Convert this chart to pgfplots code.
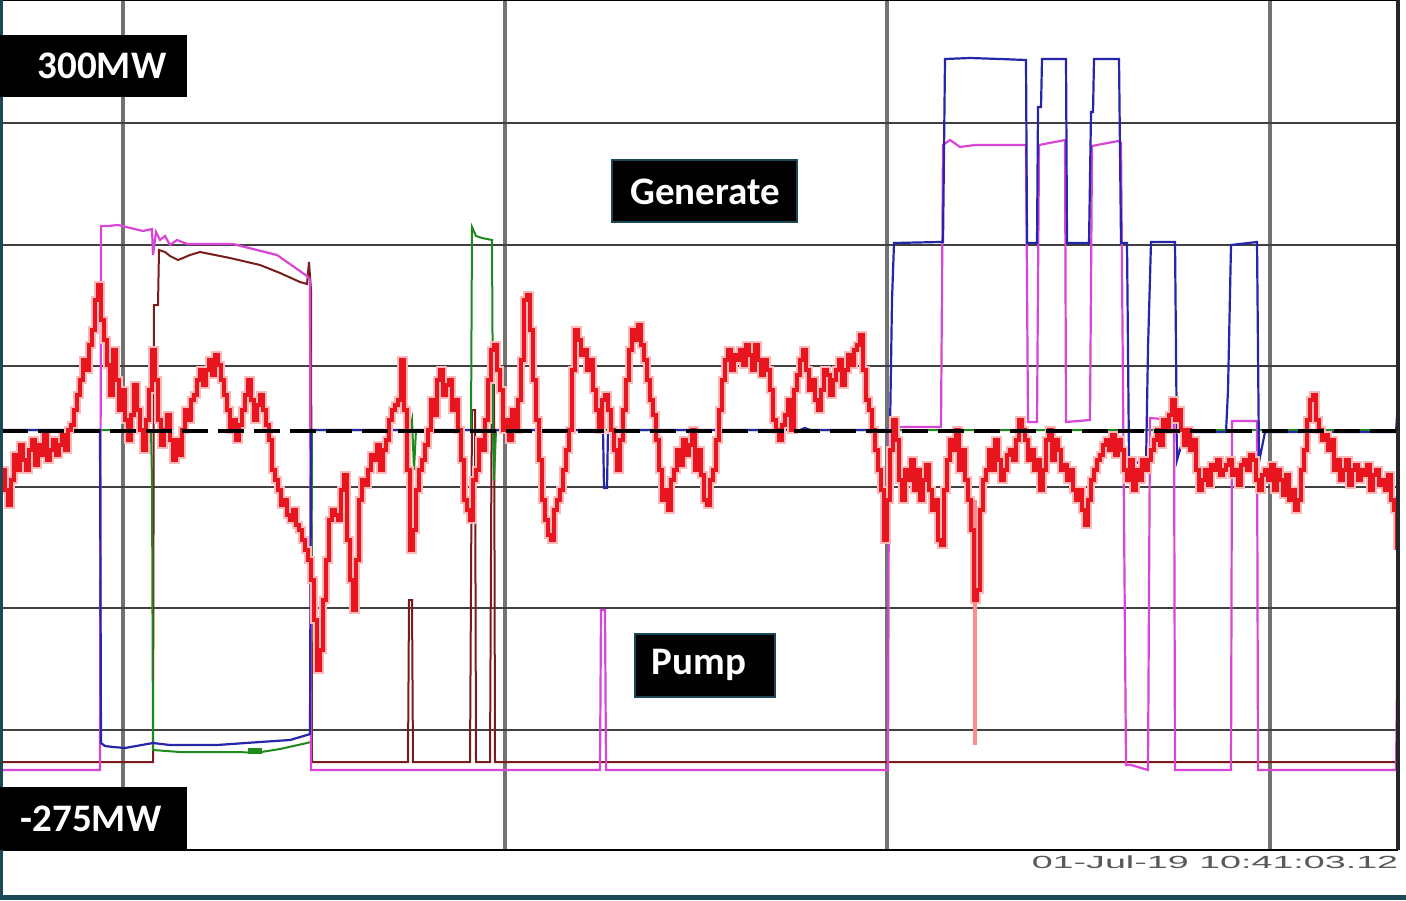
\documentclass[border=0pt]{standalone}
\usepackage{pgfplots}
\usepackage{pgfplotstable}
\pgfplotsset{compat=1.18}
\usepackage{fontspec}
\setmainfont{Carlito}
\newfontfamily\arialfont{Liberation Sans}
\usepackage{graphicx}
\definecolor{teal1}{HTML}{1B4756}
\definecolor{tred}{HTML}{E8141E}
\definecolor{tpink}{HTML}{D846D8}
\definecolor{tblue}{HTML}{2626AA}
\definecolor{tgreen}{HTML}{1E8A1E}
\definecolor{tbrown}{HTML}{7A1C1C}
\pgfplotstableread{
x y
2 470
5 490
8 505
11 480
14 455
17 470
20 445
23 460
26 470
29 450
32 440
35 465
38 445
41 455
44 435
47 460
50 450
53 440
56 455
59 445
62 435
65 450
68 430
71 425
74 410
77 395
80 380
83 360
86 370
89 345
92 330
95 300
98 285
101 320
104 340
107 365
110 395
113 350
116 380
119 410
122 390
125 420
128 440
131 415
134 385
137 410
140 430
143 450
146 420
149 390
152 350
155 380
158 420
161 445
164 430
167 415
170 440
173 460
176 440
179 455
182 430
185 410
188 420
191 400
194 395
197 380
200 370
203 385
206 370
209 360
212 375
215 355
218 365
221 380
224 395
227 410
230 430
233 420
236 440
239 425
242 410
245 395
248 380
251 400
254 420
257 405
260 395
263 410
266 425
269 440
272 470
275 480
278 490
281 505
284 500
287 515
290 520
293 510
296 525
299 530
302 540
305 550
308 560
311 580
314 620
317 670
320 650
323 600
326 560
329 520
332 510
335 515
338 520
341 490
344 475
347 540
350 580
353 610
356 560
359 500
362 480
365 485
368 470
371 455
374 460
377 445
380 470
383 450
386 440
389 420
392 410
395 405
398 400
401 360
404 410
407 470
410 550
413 530
416 490
419 470
422 460
425 445
428 430
431 400
434 415
437 380
440 370
443 395
446 385
449 380
452 410
455 400
458 430
461 460
464 500
467 510
470 520
473 480
476 470
479 440
482 450
485 420
488 380
491 350
494 345
497 370
500 390
503 430
506 420
509 440
512 410
515 430
518 400
521 360
524 300
527 295
530 330
533 380
536 420
539 460
542 500
545 520
548 535
551 540
554 510
557 500
560 490
563 470
566 450
569 430
572 370
575 330
578 340
581 355
584 350
587 370
590 360
593 390
596 410
599 430
602 400
605 395
608 410
611 430
614 450
617 470
620 440
623 410
626 380
629 350
632 330
635 340
638 325
641 345
644 360
647 380
650 400
653 415
656 440
659 470
662 500
665 490
668 510
671 480
674 470
677 450
680 465
683 440
686 455
689 445
692 430
695 470
698 450
701 475
704 500
707 505
710 480
713 470
716 440
719 410
722 380
725 360
728 350
731 370
734 355
737 360
740 350
743 365
746 345
749 355
752 370
755 345
758 360
761 375
764 360
767 370
770 390
773 420
776 430
779 440
782 425
785 415
788 400
791 430
794 390
797 375
800 360
803 350
806 370
809 390
812 380
815 400
818 410
821 390
824 370
827 375
830 395
833 380
836 370
839 360
842 385
845 370
848 355
851 365
854 350
857 345
860 335
863 370
866 400
869 410
872 430
875 450
878 470
881 490
884 540
887 500
890 450
893 420
896 440
899 480
902 500
905 470
908 480
911 460
914 490
917 470
920 500
923 480
926 465
929 490
932 510
935 500
938 540
941 545
944 490
947 460
950 440
953 450
956 430
959 470
962 450
965 480
968 500
971 530
974 600
977 590
980 510
983 480
986 470
989 450
992 470
995 440
998 460
1001 480
1004 470
1007 455
1010 450
1013 460
1016 440
1019 420
1022 430
1025 440
1028 460
1031 450
1034 470
1037 460
1040 490
1043 470
1046 440
1049 430
1052 460
1055 440
1058 450
1061 470
1064 465
1067 480
1070 470
1073 490
1076 500
1079 490
1082 510
1085 525
1088 500
1091 480
1094 470
1097 460
1100 455
1103 445
1106 440
1109 450
1112 435
1115 455
1118 440
1121 450
1124 470
1127 480
1130 460
1133 490
1136 470
1139 480
1142 460
1145 470
1148 460
1151 450
1154 440
1157 430
1160 445
1163 420
1166 430
1169 415
1172 400
1175 420
1178 410
1181 430
1184 445
1187 430
1190 450
1193 440
1196 470
1199 490
1202 480
1205 470
1208 485
1211 465
1214 470
1217 460
1220 475
1223 470
1226 465
1229 460
1232 475
1235 470
1238 485
1241 465
1244 460
1247 470
1250 455
1253 460
1256 480
1259 490
1262 475
1265 470
1268 480
1271 465
1274 490
1277 470
1280 480
1283 495
1286 475
1289 500
1292 490
1295 510
1298 500
1301 470
1304 450
1307 420
1310 400
1313 395
1316 420
1319 430
1322 440
1325 435
1328 450
1331 440
1334 470
1337 460
1340 480
1343 470
1346 460
1349 485
1352 470
1355 465
1358 480
1361 470
1364 475
1367 465
1370 490
1373 475
1376 470
1379 485
1382 480
1385 490
1388 475
1391 500
1394 510
1397 550
}\reddata
\begin{document}
\begin{tikzpicture}
\path[use as bounding box, fill=white] (0,0) rectangle (703pt,450pt);
\begin{axis}[
  at={(1pt,25pt)}, anchor=south west,
  scale only axis, width=698pt, height=425pt,
  xmin=2, xmax=1398, ymin=0, ymax=850, y dir=reverse,
  xtick={123,505,887,1270}, ytick={123,245,366,487,608,730},
  xticklabels={}, yticklabels={}, major tick length=0pt,
  xmajorgrids, ymajorgrids,
  x grid style={line width=1.7pt, color=black!55},
  y grid style={line width=0.7pt, color=black!75},
  axis line style={draw=none},
  clip=true,
]
% brown (maroon) unit
\addplot[tbrown, line width=1pt] coordinates {
(2,762)(152,762)(153,762)(154,305)(158,305)(159,250)(165,252)(170,256)(178,260)(183,258)(190,255)(200,252)(230,258)(260,265)(280,273)(300,282)(307,284)(309,262)(311,290)(312,762)(408,762)(409,600)(412,600)(413,762)(470,762)(472,410)(475,410)(476,762)(490,762)(492,345)(494,345)(495,762)(1398,762)};
% green unit
\addplot[tgreen, line width=1pt] coordinates {
(2,430)(151,430)(152,480)(153,750)(180,752)(217,752)(240,752)(255,753)(280,749)(307,743)(311,742)(312,430)(410,430)(412,420)(414,470)(416,430)(471,430)(472,227)(476,236)(482,238)(492,240)(493,430)(494,480)(496,430)(1398,430)};
\addplot[tgreen, line width=3pt] coordinates {(248,751)(262,751)};
% pink unit
\addplot[tpink, line width=1.1pt] coordinates {
(2,770)(100,770)(101,226)(108,226)(118,225)(143,231)(152,229)(153,255)(156,232)(160,240)(165,236)(170,245)(177,240)(187,244)(233,244)(277,255)(307,276)(310,280)(311,770)(600,770)(601,610)(605,610)(606,770)(888,770)(889,427)(941,427)(943,145)(950,140)(960,147)(975,145)(1000,145)(1026,145)(1028,422)(1037,422)(1039,145)(1065,140)(1066,422)(1090,420)(1092,146)(1118,141)(1121,143)(1126,765)(1131,765)(1148,770)(1150,418)(1174,420)(1175,770)(1231,770)(1232,421)(1257,421)(1258,770)(1396,770)(1398,600)};
% blue unit
\addplot[tblue, line width=1.1pt] coordinates {
(2,430)(100,430)(101,743)(105,746)(113,747)(125,748)(153,743)(170,745)(217,745)(260,742)(290,740)(307,735)(310,734)(311,430)(603,430)(604,488)(607,488)(608,430)(800,430)(805,428)(810,430)(890,430)(892,300)(894,243)(940,242)(943,242)(945,59)(970,58)(1000,59)(1026,60)(1027,243)(1037,243)(1038,107)(1041,107)(1042,59)(1066,59)(1067,243)(1089,243)(1091,112)(1093,112)(1094,59)(1119,59)(1121,243)(1127,243)(1129,460)(1146,465)(1148,348)(1151,242)(1175,242)(1177,460)(1185,432)(1226,432)(1228,390)(1231,245)(1257,242)(1259,462)(1265,432)(1396,432)(1398,400)};
% red halo and spike
\addplot[red!28, line width=3.6pt, const plot] table {\reddata};
\addplot[red!45, line width=2pt] coordinates {(975,500)(975,745)};
% red trace
\addplot[tred, line width=1.6pt, const plot] table {\reddata};
% zero (dashed) line
\addplot[black, line width=2.2pt, dash pattern=on 13pt off 5pt] coordinates {(2,431)(1398,431)};
\end{axis}
% frame
\draw[black, line width=1pt] (1pt,450pt) -- (699pt,450pt);
\draw[black, line width=0.6pt] (1pt,25pt) -- (699pt,25pt);
\draw[black!85, line width=1.6pt] (699pt,25pt) -- (699pt,450pt);
% teal border
\fill[teal1] (0,0) rectangle (1.5pt,450pt);
\fill[teal1] (0,0) rectangle (703pt,2.5pt);
% labels
\fill[black] (0,401.5pt) rectangle (93.5pt,432.5pt);
\node[text=white, font=\fontsize{19.5}{22}\selectfont\bfseries] at (51pt,417pt) {300MW};
\fill[black] (0,25pt) rectangle (93.5pt,56.5pt);
\node[text=white, font=\fontsize{19.5}{22}\selectfont\bfseries] at (45.5pt,40.5pt) {-275MW};
\filldraw[fill=black, draw=teal1, line width=0.6pt] (306pt,339pt) rectangle (398.5pt,370pt);
\node[text=white, font=\fontsize{19.5}{22}\selectfont\bfseries] at (352.5pt,354pt) {Generate};
\filldraw[fill=black, draw=teal1, line width=0.6pt] (317.5pt,101.5pt) rectangle (387.5pt,133pt);
\node[text=white, font=\fontsize{19.5}{22}\selectfont\bfseries] at (349.5pt,117.5pt) {Pump};
\node[text=black!65, font=\arialfont\fontsize{8.8}{10}\selectfont] at (607.5pt,19pt) {\scalebox{2.14}[1]{01-Jul-19 10:41:03.12}};
\end{tikzpicture}
\end{document}
